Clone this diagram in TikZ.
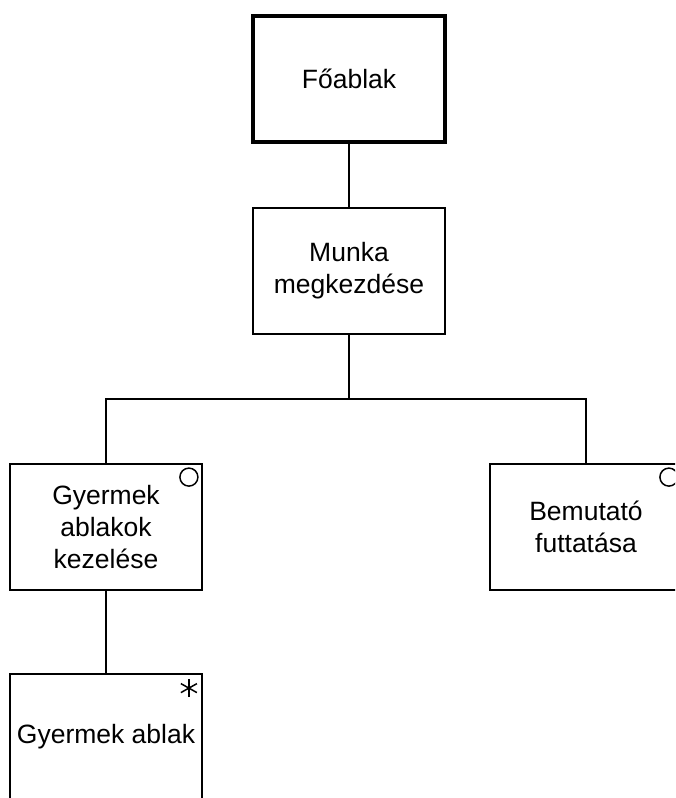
\documentclass[tikz,border=0pt]{standalone}
\usepackage{fontspec}
\setmainfont{Liberation Sans}
\begin{document}
\begin{tikzpicture}[x=1pt,y=-1pt,
  box/.style={draw, line width=1.8pt, rectangle, minimum width=192pt, minimum height=126pt,
    inner sep=0pt, align=center, font=\fontsize{26.5}{32}\selectfont},
  rootbox/.style={box, line width=4.5pt},
  link/.style={line width=1.8pt},
  symb/.style={line width=1.5pt}]
  \useasboundingbox (0,0) rectangle (675,798);
  \clip (0,0) rectangle (675,798);
  \fill[white] (0,0) rectangle (675,798);

  % boxes
  \node[rootbox] (fo)    at (349,79)  {Főablak};
  \node[box]     (munka) at (349,271) {Munka\\megkezdése};
  \node[box]     (gyak)  at (106,527) {Gyermek\\ablakok\\kezelése};
  \node[box]     (bem)   at (586,527) {Bemutató\\futtatása};
  \node[box]     (gyab)  at (106,737) {Gyermek ablak};

  % connectors
  \coordinate (bus) at (349,399);
  \draw[link] (fo.south) -- (munka.north);
  \draw[link] (munka.south) -- (bus);
  \draw[link] (gyak.north) |- (bus) -| (bem.north);
  \draw[link] (gyak.south) -- (gyab.north);

  % selection marks (circle) and iteration mark (asterisk)
  \draw[symb] ([xshift=-14pt,yshift=-14pt]gyak.north east) circle[radius=9pt];
  \draw[symb] ([xshift=-14pt,yshift=-14pt]bem.north east) circle[radius=9pt];
  \coordinate (ast) at ([xshift=-14pt,yshift=-15pt]gyab.north east);
  \draw[symb] ([yshift=-9pt]ast) -- ([yshift=9pt]ast);
  \draw[symb] ([shift={(-8pt,-4.5pt)}]ast) -- ([shift={(8pt,4.5pt)}]ast);
  \draw[symb] ([shift={(-8pt,4.5pt)}]ast) -- ([shift={(8pt,-4.5pt)}]ast);
\end{tikzpicture}
\end{document}
